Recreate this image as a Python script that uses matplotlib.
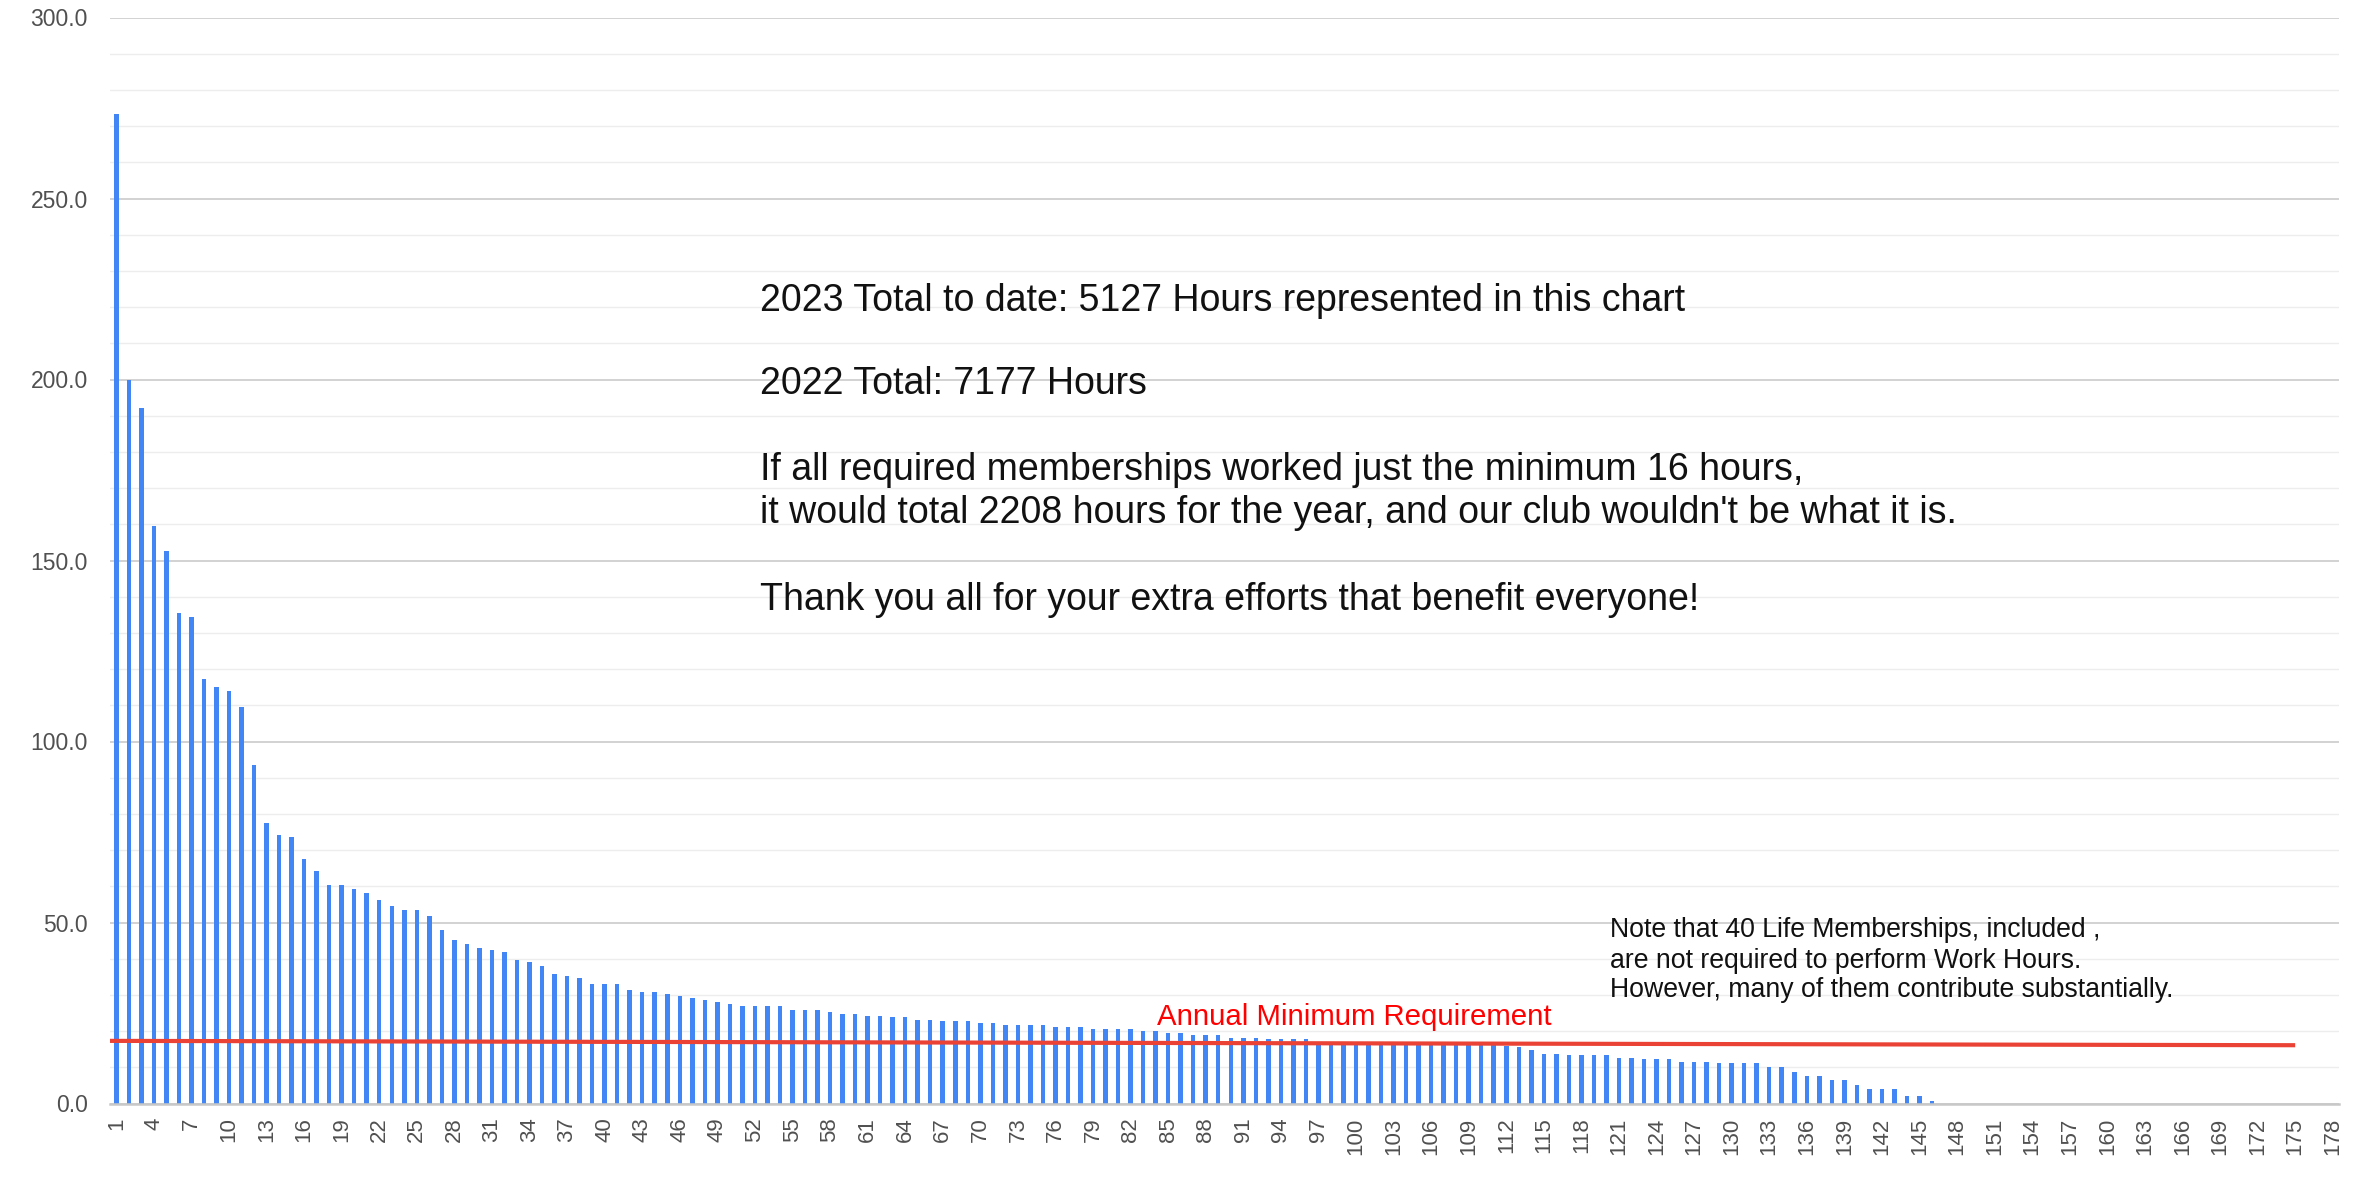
import matplotlib
matplotlib.use("Agg")
import matplotlib.pyplot as plt
from matplotlib.ticker import MultipleLocator
import numpy as np

plt.rcParams['font.family'] = ['Liberation Sans', 'DejaVu Sans']

# ---- data -------------------------------------------------------------
members = list(range(1, 179))
hours_top = [273.4, 199.9, 192.1, 159.5, 152.5, 135.5, 134.4, 117.2, 115.0, 113.9,
             109.5, 93.5, 77.5, 74.1, 73.6, 67.5, 64.2, 60.3, 60.3, 59.2, 58.1]
hours_mid = [56.2, 54.6, 53.5, 53.5, 51.8, 47.9, 45.2, 44.1, 42.9, 42.4,
             41.8, 39.6, 39.1, 38.0, 35.8, 35.2, 34.7, 33.0, 33.0, 33.0,
             31.3, 30.8, 30.8, 30.2, 29.7, 29.1, 28.6, 28.0, 27.5, 26.9,
             26.9, 26.9, 26.9, 25.8, 25.8, 25.8, 25.3, 24.7, 24.7, 24.3]
hours_low = [24.3, 23.8, 23.8, 23.2, 23.2, 22.7, 22.7, 22.7, 22.1, 22.1,
             21.6, 21.6, 21.6, 21.6, 21.0, 21.0, 21.0, 20.5, 20.5, 20.5,
             20.5, 19.9, 19.9, 19.4, 19.4, 18.8, 18.8, 18.8, 18.2, 18.2,
             18.2, 17.7, 17.7, 17.7, 17.7, 17.1, 17.1,
             16.6, 16.6, 16.6, 16.6, 16.6, 16.5, 16.5, 16.5, 16.4, 16.4,
             16.3, 16.3, 16.2, 16.0]
hours_tail = [15.5, 14.9, 13.8, 13.8, 13.3, 13.3, 13.3, 13.3, 12.7, 12.7,
              12.2, 12.2, 12.2, 11.6, 11.6, 11.6, 11.1, 11.1, 11.1, 11.1,
              10.0, 10.0, 8.8, 7.7, 7.7, 6.6, 6.6, 5.0, 3.9, 3.9,
              3.9, 2.2, 2.2, 0.6]
hours = hours_top + hours_mid + hours_low + hours_tail
hours = hours + [0.0] * (len(members) - len(hours))

min_line_x = [0.5, 175.0]
min_line_y = [17.3, 16.1]

xtick_labels = [str(m) for m in members[::3]]
ytick_values = [0, 50, 100, 150, 200, 250, 300]

main_text = [
    "2023 Total to date: 5127 Hours represented in this chart",
    "2022 Total: 7177 Hours",
    "If all required memberships worked just the minimum 16 hours,",
    "it would total 2208 hours for the year, and our club wouldn't be what it is.",
    "Thank you all for your extra efforts that benefit everyone!",
]
note_text = [
    "Note that 40 Life Memberships, included ,",
    "are not required to perform Work Hours.",
    "However, many of them contribute substantially.",
]
min_label = "Annual Minimum Requirement"

# ---- figure -----------------------------------------------------------
W, H = 2369, 1177
fig = plt.figure(figsize=(W / 100, H / 100), dpi=100)
fig.patch.set_facecolor('white')
left, right, top, bottom = 110, 2339, 17.5, 1103.5
ax = fig.add_axes([left / W, 1 - bottom / H, (right - left) / W, (bottom - top) / H])

ax.bar(members, hours, width=0.36, color='#4285f4', zorder=3)
ax.plot(min_line_x, min_line_y, color='#ea4335', lw=3.0, zorder=4, solid_capstyle='butt')

ax.set_xlim(0.5, 178.5)
ax.set_ylim(0, 300)

ax.set_yticks(ytick_values)
ax.set_yticklabels([f"{v:.1f}" for v in ytick_values])
ax.yaxis.set_minor_locator(MultipleLocator(10))
ax.set_xticks(members[::3])
ax.set_xticklabels(xtick_labels, rotation=90)

ax.tick_params(axis='y', which='both', length=0, pad=16, labelsize=16.5, labelcolor='#505050')
ax.tick_params(axis='x', which='both', length=0, pad=10, labelsize=16, labelcolor='#505050')

ax.grid(axis='y', which='major', color='#cfcfcf', lw=1.3, zorder=0)
ax.grid(axis='y', which='minor', color='#ededed', lw=1.0, zorder=0)
ax.grid(axis='x', visible=False)
for s in ['top', 'right', 'left']:
    ax.spines[s].set_visible(False)
ax.spines['bottom'].set_color('#c8c8c8')
ax.spines['bottom'].set_linewidth(1.8)
ax.spines['bottom'].set_zorder(5)

# ---- annotations ------------------------------------------------------
main_baselines = [310.7, 394, 480, 523, 610]
for t, yb in zip(main_text, main_baselines):
    fig.text(760 / W, 1 - yb / H, t, fontsize=27, color='#111111', va='baseline', ha='left')

note_baselines = [937.3, 967.7, 996.7]
for t, yb in zip(note_text, note_baselines):
    fig.text(1610 / W, 1 - yb / H, t, fontsize=19.2, color='#111111', va='baseline', ha='left')

fig.text(1157 / W, 1 - 1025 / H, min_label, fontsize=21.2, color='#ff0000', va='baseline', ha='left')

fig.savefig('out.png', dpi=100, facecolor='white')
